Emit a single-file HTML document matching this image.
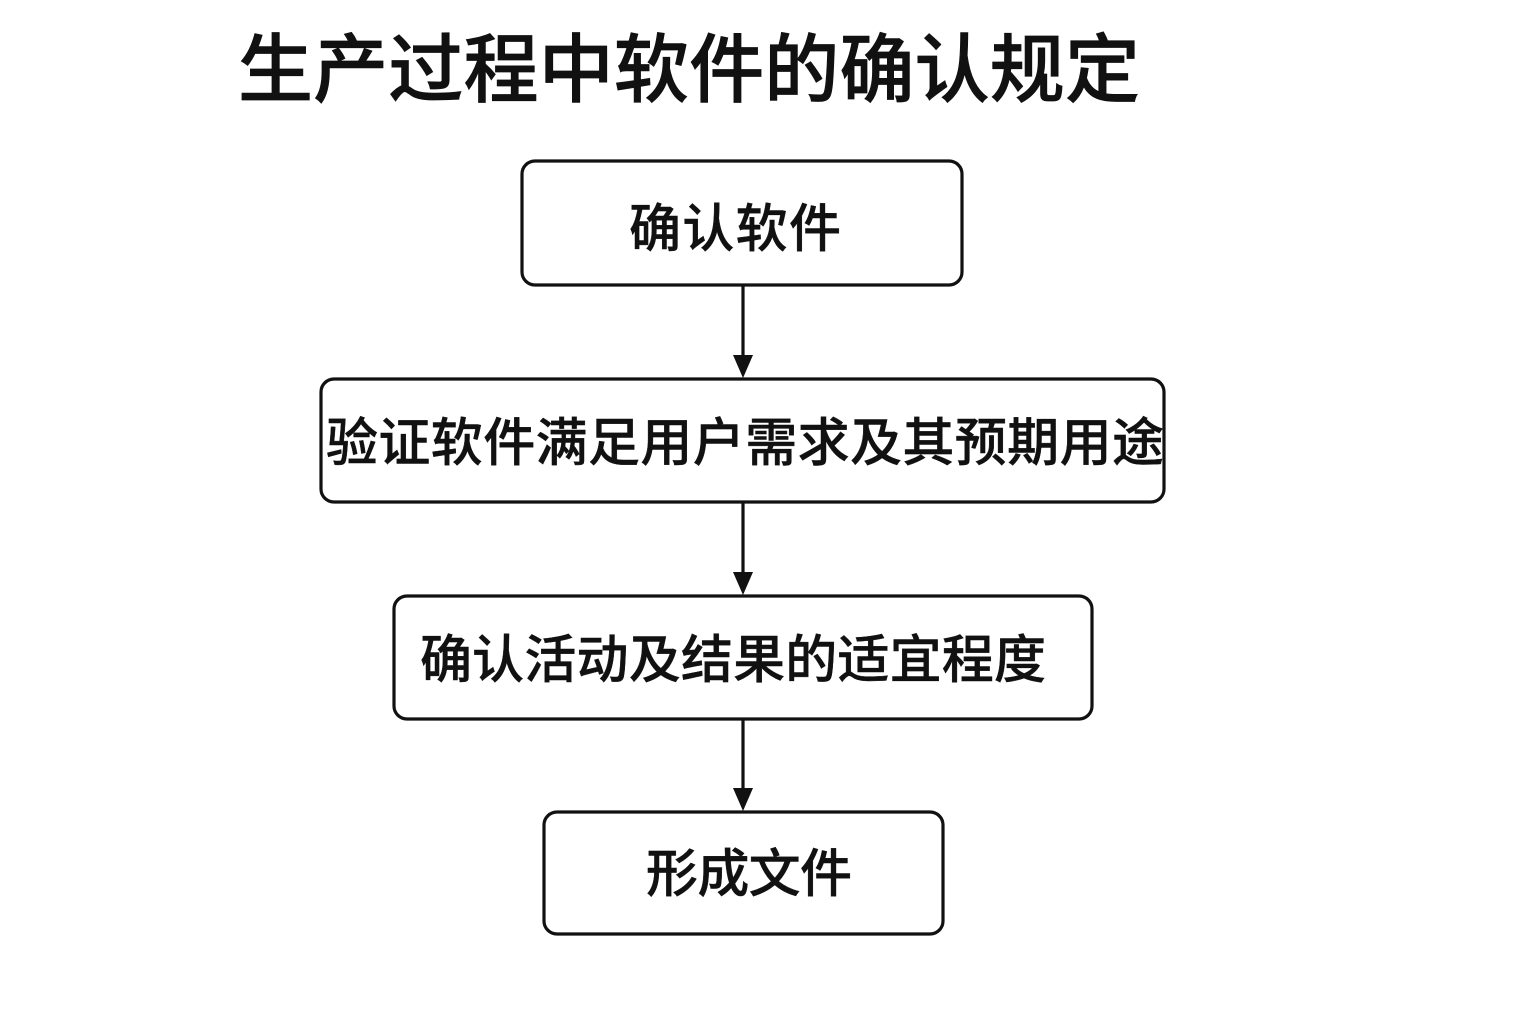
<!DOCTYPE html>
<html lang="zh">
<head>
<meta charset="utf-8">
<style>
html,body{margin:0;padding:0;background:#fff;}
svg{display:block;}
text{font-family:"Liberation Sans","Noto Sans CJK SC",sans-serif;fill:#111;stroke:#111;stroke-width:.4;font-weight:500;}
text.t{stroke-width:.7;}
rect{fill:#fff;stroke:#111;stroke-width:3.2;}
line{stroke:#111;stroke-width:3.2;}
polygon{fill:#111;}
</style>
</head>
<body>
<svg width="1536" height="1024" viewBox="0 0 1536 1024" xmlns="http://www.w3.org/2000/svg">
<text class="t" x="238" y="96" font-size="75" textLength="902" lengthAdjust="spacing">生产过程中软件的确认规定</text>
<rect x="522" y="161" width="440" height="124" rx="13"/>
<rect x="321" y="379" width="843" height="123" rx="13"/>
<rect x="394" y="596" width="698" height="123" rx="13"/>
<rect x="544" y="812" width="399" height="122" rx="13"/>
<line x1="743" y1="285" x2="743" y2="358"/>
<polygon points="733,355 753,355 743,378"/>
<line x1="743" y1="502" x2="743" y2="575"/>
<polygon points="733,572 753,572 743,595"/>
<line x1="743" y1="719" x2="743" y2="791"/>
<polygon points="733,788 753,788 743,811"/>
<text x="629" y="247" font-size="52" textLength="212" lengthAdjust="spacing">确认软件</text>
<text x="326" y="461" font-size="52" textLength="838" lengthAdjust="spacing">验证软件满足用户需求及其预期用途</text>
<text x="420" y="678" font-size="52" textLength="626" lengthAdjust="spacing">确认活动及结果的适宜程度</text>
<text x="646" y="892" font-size="52" textLength="206" lengthAdjust="spacing">形成文件</text>
</svg>
</body>
</html>
